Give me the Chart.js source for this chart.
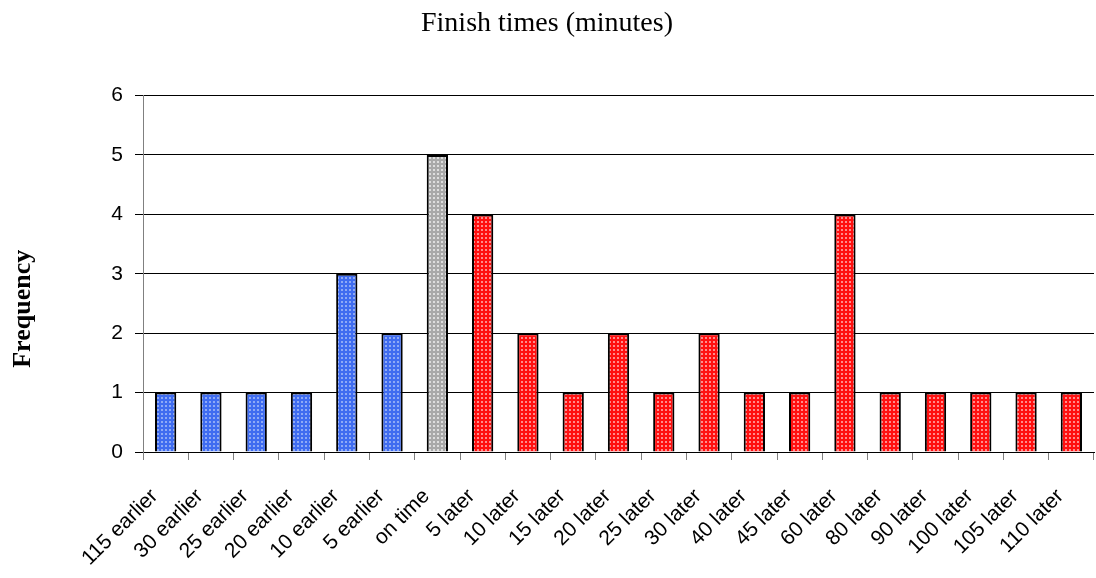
<!DOCTYPE html>
<html>
<head>
<meta charset="utf-8">
<script src="https://cdn.jsdelivr.net/npm/chart.js@4.4.1/dist/chart.umd.min.js"></script>
<style>
  html, body { margin: 0; padding: 0; background: #ffffff; }
  #wrap { width: 1096px; height: 578px; position: relative; }
</style>
</head>
<body>
<div id="wrap"><canvas id="chart" width="1096" height="578"></canvas></div>
<script>
// Finish-time categories (minutes relative to the target time)
const categories = [
  '115 earlier', '30 earlier', '25 earlier', '20 earlier', '10 earlier', '5 earlier',
  'on time',
  '5 later', '10 later', '15 later', '20 later', '25 later', '30 later', '40 later',
  '45 later', '60 later', '80 later', '90 later', '100 later', '105 later', '110 later'
];
// Number of finishers in each category
const frequency = [1, 1, 1, 1, 3, 2, 5, 4, 2, 1, 2, 1, 2, 1, 1, 4, 1, 1, 1, 1, 1];
// Group of each category: early, on time, late
const groups = ['early', 'early', 'early', 'early', 'early', 'early', 'ontime',
  'late', 'late', 'late', 'late', 'late', 'late', 'late', 'late', 'late',
  'late', 'late', 'late', 'late', 'late'];
const yTicks = [0, 1, 2, 3, 4, 5, 6];

// Dotted fill: solid base colour with a small lighter dot in every 4px cell
function dotPattern(base, dot) {
  const c = document.createElement('canvas');
  c.width = 4; c.height = 4;
  const g = c.getContext('2d');
  g.fillStyle = base; g.fillRect(0, 0, 4, 4);
  g.fillStyle = dot; g.fillRect(1, 1, 2, 2);
  return document.getElementById('chart').getContext('2d').createPattern(c, 'repeat');
}
const fills = {
  early: dotPattern('#3f6cf0', '#8eaaf6'),
  ontime: dotPattern('#a9a9a9', '#dedede'),
  late: dotPattern('#ff1010', '#ff8c8c')
};

// Rotated "Frequency" caption beside the value axis
const yCaption = {
  id: 'yCaption',
  afterDraw(chart) {
    const { ctx, chartArea } = chart;
    ctx.save();
    ctx.translate(chartArea.left - 120, (chartArea.top + chartArea.bottom) / 2 + 35);
    ctx.rotate(-Math.PI / 2);
    ctx.font = 'bold 26px "Liberation Serif", "Times New Roman", serif';
    ctx.fillStyle = '#000';
    ctx.textAlign = 'center';
    ctx.textBaseline = 'middle';
    ctx.fillText('Frequency', 0, 0);
    ctx.restore();
  }
};

new Chart(document.getElementById('chart'), {
  type: 'bar',
  data: {
    labels: categories,
    datasets: [{
      data: frequency,
      backgroundColor: groups.map(g => fills[g]),
      borderColor: '#000000',
      borderWidth: 2,
      borderSkipped: 'bottom',
      barPercentage: 0.47,
      categoryPercentage: 1.0
    }]
  },
  options: {
    responsive: false,
    animation: false,
    layout: { padding: { left: 0, right: 2, top: 0, bottom: 0 } },
    plugins: {
      legend: { display: false },
      tooltip: { enabled: false },
      title: {
        display: true,
        text: 'Finish times (minutes)',
        color: '#000',
        font: { family: '"Liberation Serif", "Times New Roman", serif', size: 28, weight: 'normal' },
        padding: { top: 7, bottom: 55 }
      }
    },
    scales: {
      x: {
        offset: true,
        grid: {
          offset: true,
          drawOnChartArea: false,
          drawTicks: true,
          tickLength: 8,
          color: '#808080'
        },
        border: { display: true, color: '#000000', width: 1 },
        ticks: {
          color: '#000',
          font: { family: '"Liberation Sans", Arial, sans-serif', size: 21 },
          minRotation: 45,
          maxRotation: 45,
          autoSkip: false,
          padding: 24,
          labelOffset: -11
        },
        afterFit(scale) {
          scale.height = 126;
          scale.paddingLeft = 0;
          scale.paddingRight = 0;
        }
      },
      y: {
        min: 0,
        max: 6,
        afterBuildTicks(scale) { scale.ticks = yTicks.map(v => ({ value: v })); },
        grid: {
          color: '#000000',
          lineWidth: 1,
          tickLength: 8
        },
        border: { display: true, color: '#808080', width: 1 },
        ticks: {
          color: '#000',
          font: { family: '"Liberation Sans", Arial, sans-serif', size: 21 },
          padding: 12
        },
        afterFit(scale) { scale.width = 143; }
      }
    }
  },
  plugins: [yCaption]
});
</script>
</body>
</html>
